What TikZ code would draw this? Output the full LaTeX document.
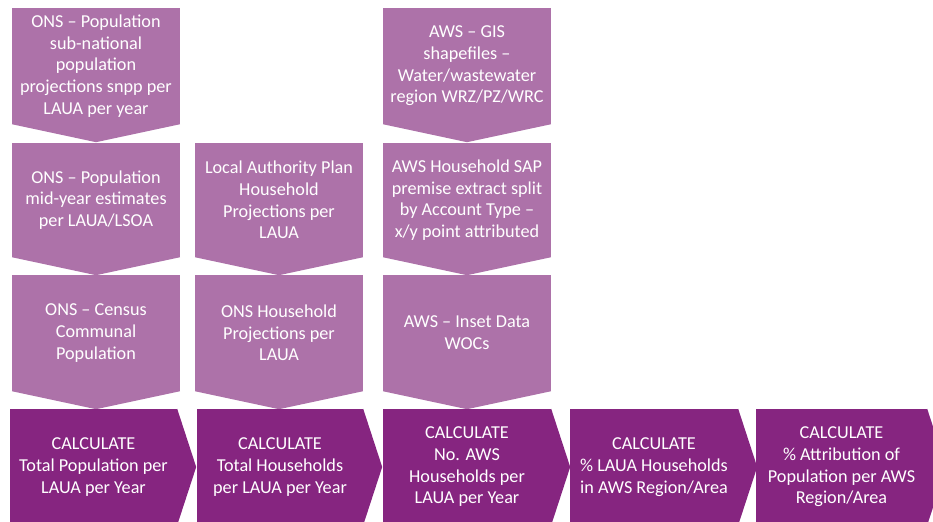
\documentclass[tikz,border=0pt]{standalone}
\usepackage{fontspec}
\setmainfont{Carlito}
\definecolor{lightp}{HTML}{AD72A9}
\definecolor{darkp}{HTML}{862580}
\tikzset{
  boxtext/.style={text=white, align=center, inner sep=0pt,
    font=\fontsize{18.2bp}{21.7bp}\selectfont},
  srcbox/.style={boxtext, fill=lightp, minimum width=168bp},
  calcbox/.style={boxtext, fill=darkp, minimum height=116bp},
  srctip/.style={fill=lightp},
  calctip/.style={fill=darkp},
}
\newcommand{\downtip}[1]{\fill[srctip] (#1.south west) -- (#1.south east) -- ([yshift=-18bp]#1.south) -- cycle;}
\newcommand{\righttip}[1]{\fill[calctip] (#1.north east) -- ([xshift=19bp]#1.east) -- (#1.south east) -- cycle;}
\begin{document}
\begin{tikzpicture}[x=1bp,y=-1bp]
\useasboundingbox (0,0) rectangle (933,522);
\clip (0,0) rectangle (933,522);
% column 1
\node[srcbox, minimum height=116bp] (s11) at (96,66) {ONS – Population\\sub-national\\population\\projections snpp per\\LAUA per year};
\downtip{s11}
\node[srcbox, minimum height=114bp] (s12) at (96,200) {ONS – Population\\mid-year estimates\\per LAUA/LSOA};
\downtip{s12}
\node[srcbox, minimum height=116bp] (s13) at (96,333) {ONS – Census\\Communal\\Population};
\downtip{s13}
% column 2
\node[srcbox, minimum height=114bp] (s21) at (279,200) {Local Authority Plan\\Household\\Projections per\\LAUA};
\downtip{s21}
\node[srcbox, minimum height=116bp] (s22) at (279,333) {ONS Household\\Projections per\\LAUA};
\downtip{s22}
% column 3
\node[srcbox, minimum height=116bp] (s31) at (467,66) {AWS – GIS\\shapefiles –\\Water/wastewater\\region WRZ/PZ/WRC};
\downtip{s31}
\node[srcbox, minimum height=114bp] (s32) at (467,200) {AWS Household SAP\\premise extract split\\by Account Type –\\x/y point attributed};
\downtip{s32}
\node[srcbox, minimum height=116bp] (s33) at (467,333) {AWS – Inset Data\\WOCs};
\downtip{s33}
% bottom row
\node[calcbox, minimum width=167bp] (c1) at (93.5,467) {CALCULATE\\Total Population per\\LAUA per Year};
\righttip{c1}
\node[calcbox, minimum width=166bp] (c2) at (280,467) {CALCULATE\\Total Households\\per LAUA per Year};
\righttip{c2}
\node[calcbox, minimum width=168bp] (c3) at (467,467) {CALCULATE\\No. AWS\\Households per\\LAUA per Year};
\righttip{c3}
\node[calcbox, minimum width=168bp] (c4) at (654,467) {CALCULATE\\\% LAUA Households\\in AWS Region/Area};
\righttip{c4}
\node[calcbox, minimum width=171bp] (c5) at (841.5,467) {CALCULATE\\\% Attribution of\\Population per AWS\\Region/Area};
\righttip{c5}
\end{tikzpicture}
\end{document}
